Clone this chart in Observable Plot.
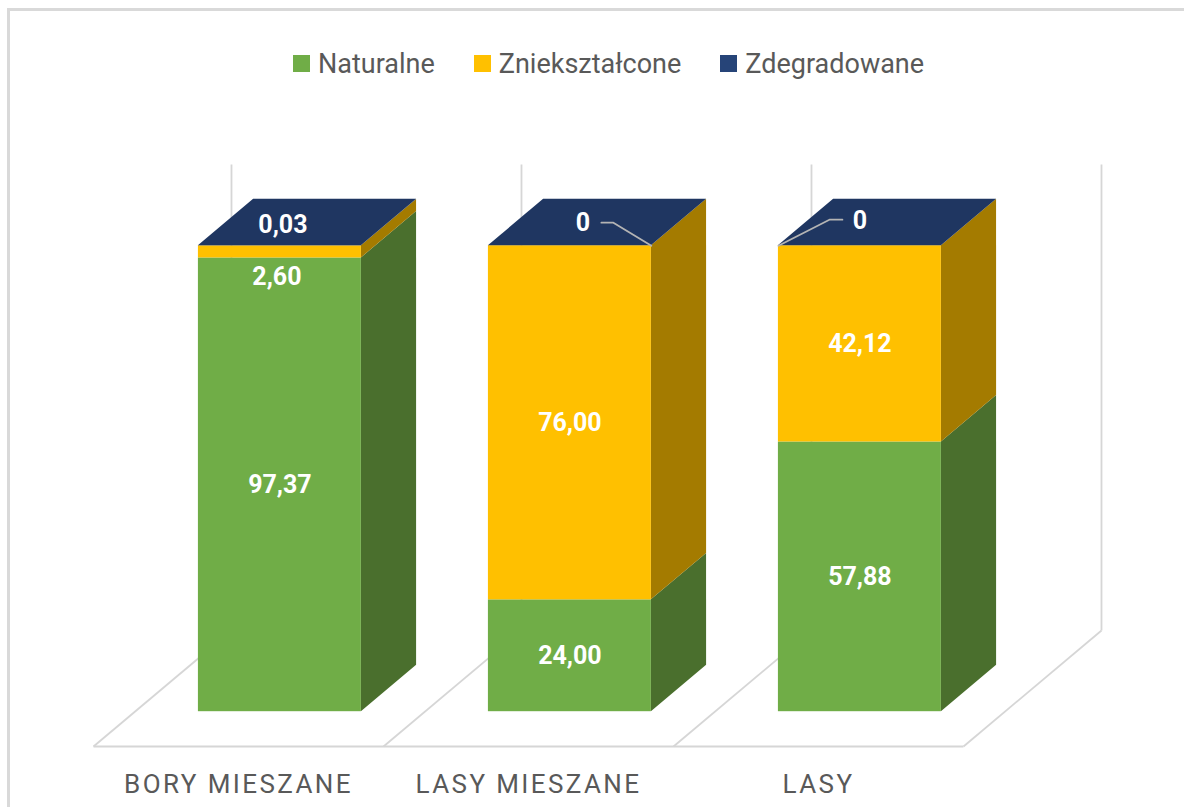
<!DOCTYPE html>
<html>
<head>
<meta charset="utf-8">
<script src="https://cdn.jsdelivr.net/npm/d3@7"></script>
<script src="https://cdn.jsdelivr.net/npm/@observablehq/plot@0.6"></script>
<style>
  html, body { margin: 0; padding: 0; background: #fff; overflow: hidden; width: 1184px; height: 807px; }
  #chart { position: absolute; left: 0; top: 0; width: 1184px; }
  #legend { height: 100px; box-sizing: border-box; padding-top: 47px; padding-left: 293px; }
  #legend > * { margin: 0 !important; }
  #legend * { font-family: Roboto, sans-serif !important; font-size: 27px !important; color: #595959 !important; }
  #legend span { margin-right: 39px !important; display: inline-flex; align-items: center; }
  #legend span > svg { margin-right: 8px !important; }
  #frame { position: absolute; left: 7px; top: 8px; width: 2000px; height: 2000px;
           border-left: 3px solid #d9d9d9; border-top: 3px solid #d9d9d9; z-index: 10; pointer-events: none; }
  g[aria-description="category-labels"] text { letter-spacing: 2.4px; }
</style>
</head>
<body>
<div id="chart">
  <div id="legend"></div>
  <div id="plot"></div>
</div>
<div id="frame"></div>
<script>
// ---- data ----
const categories = ["BORY MIESZANE", "LASY MIESZANE", "LASY"];
const series = ["Naturalne", "Zniekształcone", "Zdegradowane"];
const naturalne = [97.37, 24.00, 57.88];
const znieksztalcone = [2.60, 76.00, 42.12];
const zdegradowane = [0.03, 0, 0];

// ---- styles ----
const frontColors = ["#70ad47", "#ffc000", "#264478"];
const sideColors = ["#4a6f2d", "#a47b00", "#1a2f55"];
const topColor = "#1f3661";
const gridColor = "#d6d6d6";

// ---- oblique 3D projection (in scale units) ----
const PX_X = 290, PX_Y = 4.66;          // px per x-unit / per y-unit
const DX = 138 / PX_X, DY = 116 / PX_Y; // full floor depth
const d0 = 0.3, d1 = 0.7;               // bar depth span
const gap = 0.219;                       // gap on each side of a bar
const bd = d1 - d0;

const values = [naturalne, znieksztalcone, zdegradowane];
const segments = [];
categories.forEach((c, i) => {
  let acc = 0;
  series.forEach((s, k) => {
    const v = values[k][i];
    const xl = i + gap + d0 * DX, xr = i + 1 - gap + d0 * DX;
    segments.push({i, c, s, k, v, v0: acc, v1: acc + v, xl, xr});
    acc += v;
  });
});
const tops = categories.map((c, i) => {
  const segs = segments.filter(d => d.i === i);
  const last = segs[segs.length - 1];
  return {i, top: last.v1, xl: last.xl, xr: last.xr};
});

// side faces: two points per face
const sidePts = segments.flatMap(d => [
  {key: d.i + "-" + d.k, k: d.k, x: d.xr, y1: d.v0 + d0 * DY, y2: d.v1 + d0 * DY},
  {key: d.i + "-" + d.k, k: d.k, x: d.xr + bd * DX, y1: d.v0 + d1 * DY, y2: d.v1 + d1 * DY}
]);
// top faces
const topPts = tops.flatMap(t => [
  {key: t.i, y: t.top + d0 * DY, x1: t.xl, x2: t.xr},
  {key: t.i, y: t.top + d1 * DY, x1: t.xl + bd * DX, x2: t.xr + bd * DX}
]);

// labels
const fmt = v => v === 0 ? "0" : v.toFixed(2).replace(".", ",");
const labelLayout = {
  "0-1": {dx: -3, dy: 25},
  "0-2": {dx: 3, dy: -21},
  "1-2": {dx: 13, dy: -23, corner: "right", elbow: [-38, -23], tail: -12},
  "2-2": {dx: 0, dy: -25, corner: "left", elbow: [51, -26], tail: 13}
};
const labels = segments.map(d => {
  const L = labelLayout[d.i + "-" + d.k] || {dx: 0, dy: 0};
  const cx = (d.xl + d.xr) / 2, cy = (d.v0 + d.v1) / 2 + d0 * DY;
  return {text: fmt(d.v), x: cx + L.dx / PX_X, y: cy - L.dy / PX_Y};
});
const leaders = segments.flatMap(d => {
  const L = labelLayout[d.i + "-" + d.k];
  if (!L || !L.corner) return [];
  const key = d.i + "-" + d.k;
  const cx = L.corner === "right" ? d.xr : d.xl, cy = d.v1 + d0 * DY;
  const ex = cx + L.elbow[0] / PX_X, ey = cy - L.elbow[1] / PX_Y;
  return [{key, x: cx, y: cy}, {key, x: ex, y: ey}, {key, x: ex + L.tail / PX_X, y: ey}];
});

const bounds = d3.range(categories.length + 1);

const marks = [
  // floor / wall category gridlines
  Plot.link([0], {x1: () => 0, y1: () => 0, x2: () => categories.length, y2: () => 0, stroke: gridColor, strokeWidth: 1.8}),
  Plot.link(bounds, {x1: d => d, y1: () => 0, x2: d => d + DX, y2: () => DY, stroke: gridColor, strokeWidth: 1.8}),
  Plot.link(bounds, {x1: d => d + DX, y1: () => DY, x2: d => d + DX, y2: () => DY + 100, stroke: gridColor, strokeWidth: 1.8})
];
series.forEach((s, k) => {
  marks.push(Plot.areaY(sidePts.filter(d => d.k === k), {x: "x", y1: "y1", y2: "y2", z: "key", fill: sideColors[k]}));
  marks.push(Plot.rect(segments.filter(d => d.k === k && d.v > 0), {
    x1: "xl", x2: "xr", y1: d => d.v0 + d0 * DY, y2: d => d.v1 + d0 * DY, fill: frontColors[k]
  }));
});
marks.push(Plot.areaX(topPts, {y: "y", x1: "x1", x2: "x2", z: "key", fill: topColor}));
marks.push(Plot.line(leaders, {x: "x", y: "y", z: "key", stroke: "#b4b4b4", strokeWidth: 1.8}));
marks.push(Plot.text(labels, {x: "x", y: "y", text: "text", fill: "white", fontSize: 25, fontWeight: "bold", fontFamily: "Roboto"}));
marks.push(Plot.text(categories, {
  x: (d, i) => i + 0.5, y: () => 0, dy: 38, text: d => d,
  fill: "#595959", fontSize: 26, fontFamily: "Roboto", ariaDescription: "category-labels"
}));

const chart = Plot.plot({
  width: 1184,
  height: 707,
  margin: 0,
  x: {type: "linear", domain: [0, 3], range: [93, 963], axis: null},
  y: {type: "linear", domain: [0, 100], range: [646, 180], axis: null},
  style: {background: "transparent", overflow: "visible"},
  marks
});
document.getElementById("plot").appendChild(chart);

// letter-spacing for the category labels (fallback if the attribute selector does not match)
d3.select(chart).selectAll("text").filter(function() { return categories.includes(this.textContent); })
  .style("letter-spacing", "2.4px");

const legend = Plot.legend({
  color: {type: "ordinal", domain: series, range: frontColors},
  legend: "swatches",
  swatchSize: 17
});
document.getElementById("legend").appendChild(legend);
</script>
</body>
</html>
